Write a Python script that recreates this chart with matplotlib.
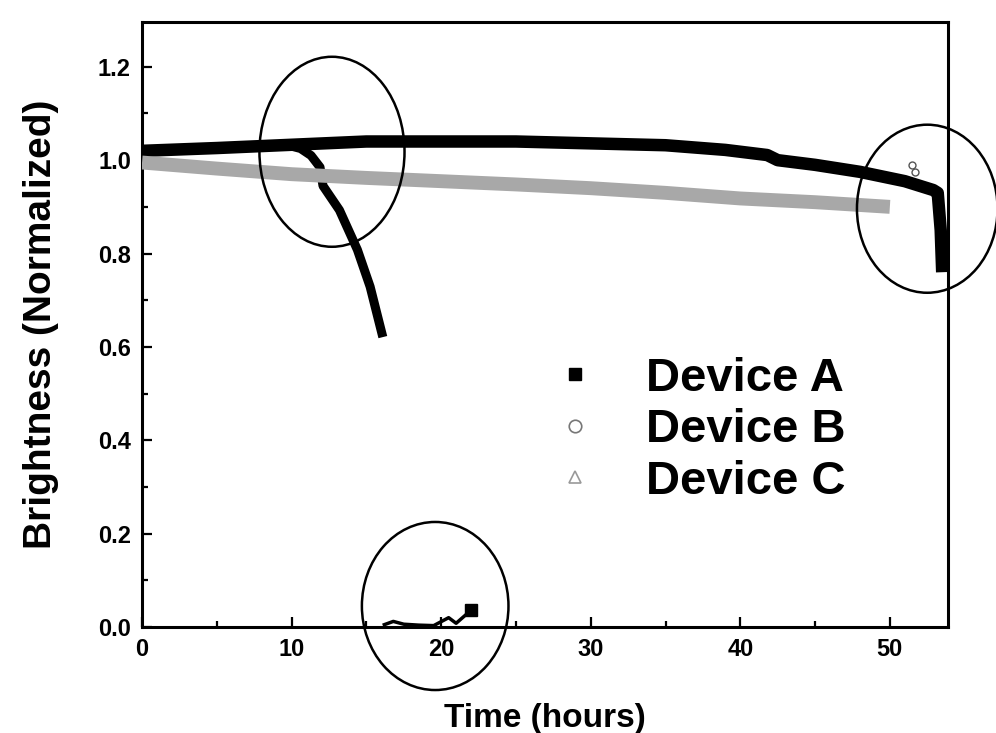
import matplotlib
matplotlib.use("Agg")
import matplotlib.pyplot as plt
from matplotlib.lines import Line2D
from matplotlib.patches import Ellipse
from matplotlib.ticker import MultipleLocator

plt.rcParams["font.family"] = ["Liberation Sans", "DejaVu Sans"]
plt.rcParams["font.weight"] = "bold"

# Device A: early failure, then near-zero readings
t_a = [0, 2, 4, 6, 8, 10, 10.6, 11.3, 11.9, 12.1, 13.2, 14.4, 15.25, 16.1]
b_a = [1.02, 1.022, 1.025, 1.027, 1.03, 1.03, 1.025, 1.01, 0.985, 0.945, 0.893, 0.808, 0.729, 0.621]
t_a_off = [16.2, 16.8, 17.5, 18.5, 19.5, 20.5, 21.0, 22.0]
b_a_off = [0.005, 0.012, 0.006, 0.004, 0.003, 0.02, 0.008, 0.036]

# Device B: long-lived, sudden drop at the end
t_b = [0, 5, 10, 15, 20, 25, 30, 35, 39, 41.8, 42.5, 45, 48, 51, 52.9, 53.2, 53.4, 53.5]
b_b = [1.02, 1.026, 1.033, 1.04, 1.04, 1.04, 1.036, 1.032, 1.022, 1.011, 1.0, 0.99,
       0.975, 0.955, 0.936, 0.93, 0.85, 0.76]
t_b_pts = [51.5, 51.7]
b_b_pts = [0.99, 0.975]

# Device C: slow steady decay
t_c = [0, 5, 10, 15, 20, 25, 30, 35, 40, 45, 50]
b_c = [0.995, 0.982, 0.97, 0.962, 0.955, 0.948, 0.94, 0.93, 0.918, 0.91, 0.9]

# highlighted regions (center x, center y, width, height) in data units
circles = [(12.7, 1.018, 9.7, 0.407), (52.5, 0.896, 9.4, 0.36), (19.6, 0.045, 9.8, 0.36)]

fig = plt.figure(figsize=(9.96, 7.33), dpi=100)
ax = fig.add_axes([0.1426, 0.1446, 0.952 - 0.1426, 0.970 - 0.1446])

ax.plot(t_a, b_a, color="black", lw=6.5, solid_capstyle="butt", zorder=3)
ax.plot(t_a_off, b_a_off, color="black", lw=2.5, zorder=3)
ax.plot([t_a_off[-1]], [b_a_off[-1]], "s", color="black", ms=8, zorder=3)
ax.plot(t_b, b_b, color="black", lw=9, solid_capstyle="butt", solid_joinstyle="round", zorder=3)
ax.plot(t_b_pts, b_b_pts, "o", mfc="none", mec="#555555", ms=5, zorder=3)
ax.plot(t_c, b_c, color="#a8a8a8", lw=10, solid_capstyle="butt", zorder=4)

for cx, cy, w, h in circles:
    ax.add_patch(Ellipse((cx, cy), w, h, fill=False, ec="black", lw=1.8,
                         clip_on=False, zorder=5))

ax.set_xlim(0, 53.9)
ax.set_ylim(0, 1.296)
ax.xaxis.set_major_locator(MultipleLocator(10))
ax.xaxis.set_minor_locator(MultipleLocator(5))
ax.yaxis.set_major_locator(MultipleLocator(0.2))
ax.yaxis.set_minor_locator(MultipleLocator(0.1))
ax.tick_params(which="both", direction="in", width=1.6, labelsize=17)
ax.tick_params(which="major", length=7, pad=8)
ax.tick_params(which="minor", length=4)
ax.set_yticks([0, 0.2, 0.4, 0.6, 0.8, 1.0, 1.2])
ax.set_yticklabels(["0.0", "0.2", "0.4", "0.6", "0.8", "1.0", "1.2"])
for s in ax.spines.values():
    s.set_linewidth(2.2)

ax.set_xlabel("Time (hours)", fontsize=24, fontweight="bold", labelpad=30)
ax.set_ylabel("Brightness (Normalized)", fontsize=28, fontweight="bold", labelpad=28)

handles = [
    Line2D([], [], ls="none", marker="s", color="black", ms=9),
    Line2D([], [], ls="none", marker="o", mfc="none", mec="#777777", ms=9, mew=1.2),
    Line2D([], [], ls="none", marker="^", mfc="none", mec="#999999", ms=9, mew=1.2),
]
ax.legend(handles, ["Device A", "Device B", "Device C"], loc="upper left",
          bbox_to_anchor=(0.455, 0.478), frameon=False, fontsize=34,
          handlelength=2.0, handletextpad=0.5, borderpad=0.4,
          labelspacing=0.16, borderaxespad=0)

fig.savefig("out.png", dpi=100)
